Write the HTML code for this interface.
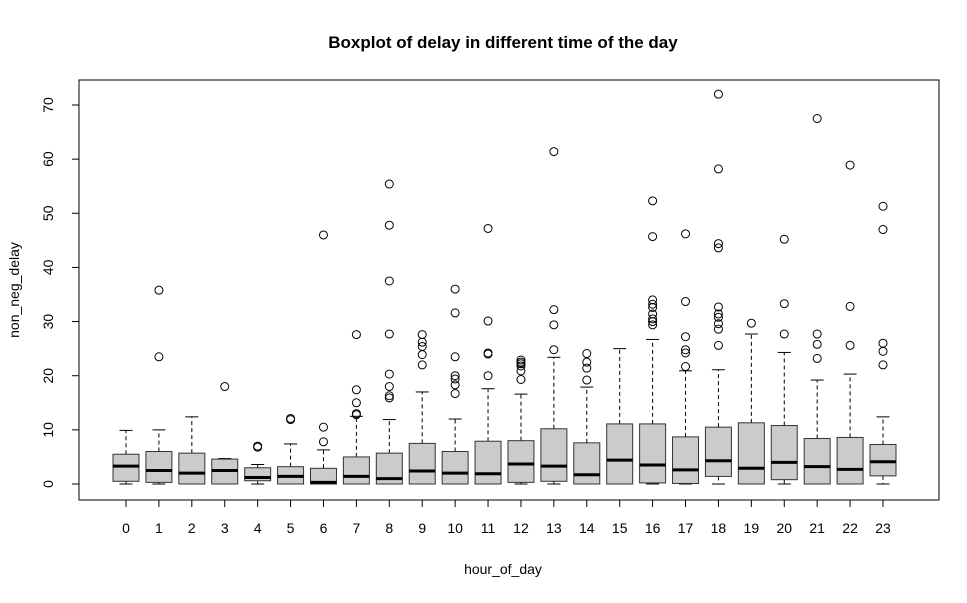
<!DOCTYPE html>
<html><head><meta charset="utf-8"><style>
body{margin:0;background:#fff}
svg text{font-family:"Liberation Sans",Arial,sans-serif;fill:#000}
</style></head><body>
<svg id="c" width="967" height="598" xmlns="http://www.w3.org/2000/svg">
<text x="503" y="48" font-size="17" font-weight="bold" text-anchor="middle">Boxplot of delay in different time of the day</text>
<rect x="79" y="80" width="860" height="420" fill="none" stroke="#000" stroke-width="1"/>
<text x="503" y="574" font-size="14" text-anchor="middle">hour_of_day</text>
<text transform="translate(19,290) rotate(-90)" font-size="14" text-anchor="middle">non_neg_delay</text>
<g id="g"></g>
</svg>
<script>
const hours=[0,1,2,3,4,5,6,7,8,9,10,11,12,13,14,15,16,17,18,19,20,21,22,23];
const lowW=[0,0,0,0,0,0,0,0,0,0,0,0,0,0,0,0,0,0,0,0,0,0,0,0];
const q1=[0.5,0.3,0,0,0.6,0,0,0,0,0,0,0,0.3,0.5,0,0,0.2,0.1,1.4,0,0.8,0,0,1.5];
const med=[3.3,2.5,2.0,2.5,1.2,1.4,0.3,1.4,1.0,2.4,2.0,1.9,3.7,3.3,1.7,4.4,3.5,2.6,4.3,2.9,4.0,3.2,2.7,4.1];
const q3=[5.5,6.0,5.7,4.6,3.0,3.2,2.9,5.0,5.7,7.5,6.0,7.9,8.0,10.2,7.6,11.1,11.1,8.7,10.5,11.3,10.8,8.4,8.6,7.3];
const highW=[9.9,10,12.4,4.7,3.6,7.4,6.3,12.5,11.9,17,12,17.6,16.6,23.4,17.9,25.0,26.7,20.9,21.1,27.7,24.3,19.2,20.3,12.4];
const outliers=[[],[23.5,35.8],[],[18],[6.8,7.0],[11.9,12.1],[7.8,10.5,46],[12.8,13.0,15,17.4,27.6],
[15.9,16.3,18,20.3,27.7,37.5,47.8,55.4],[22,23.9,25.4,26.2,27.6],[16.7,18.3,19.4,20,23.5,31.6,36],
[20,24,24.2,30.1,47.2],[19.3,20.9,21.8,22.2,22.5,22.9],[24.8,29.4,32.2,61.4],[19.2,21.4,22.5,24.1],[],
[29.4,30,30.5,31.4,32.6,33.2,34,45.7,52.3],[21.7,24.2,24.8,27.2,33.7,46.2],
[25.6,28.6,29.6,30.8,31.4,32.7,43.6,44.4,58.2,72],[29.7],[27.7,33.3,45.2],[23.2,25.8,27.7,67.5],[25.6,32.8,58.9],[22,24.5,26,47,51.3]];
const yTicks=[0,10,20,30,40,50,60,70];
const X=h=>126+h*(883-126)/23;
const Y=v=>484-v*(484-105)/70;
const NS="http://www.w3.org/2000/svg";
const g=document.getElementById('g');
function mk(t,a,p){const e=document.createElementNS(NS,t);for(const k in a)e.setAttribute(k,a[k]);(p||g).appendChild(e);return e;}
yTicks.forEach(t=>{
 const l=mk('line',{x1:72,x2:79,y1:Y(t),y2:Y(t),stroke:'#000'});
 
 
 const tx=mk('text',{transform:`translate(53,${Y(t)}) rotate(-90)`,'font-size':14,'text-anchor':'middle'});
 tx.textContent=t;
 
 
});
mk('line',{x1:79,x2:79,y1:Y(0),y2:Y(70),stroke:'#000'});
mk('line',{x1:X(0),x2:X(23),y1:500,y2:500,stroke:'#000'});
const bw=13;
hours.forEach((h,i)=>{
 const x=X(h);
 const tk=mk('line',{x1:x,x2:x,y1:500,y2:507,stroke:'#000'});
 
 
 const tx=mk('text',{x:x,y:533,'font-size':14,'text-anchor':'middle'});
 tx.textContent=h;
 
 
 const grp=mk('g',{});
 
 
 mk('line',{x1:x,x2:x,y1:Y(q3[i]),y2:Y(highW[i]),stroke:'#000','stroke-dasharray':'4,3'},grp);
 mk('line',{x1:x,x2:x,y1:Y(q1[i]),y2:Y(lowW[i]),stroke:'#000','stroke-dasharray':'4,3'},grp);
 mk('line',{x1:x-6.5,x2:x+6.5,y1:Y(highW[i]),y2:Y(highW[i]),stroke:'#000'},grp);
 mk('line',{x1:x-6.5,x2:x+6.5,y1:Y(lowW[i]),y2:Y(lowW[i]),stroke:'#000'},grp);
 mk('rect',{x:x-bw,y:Y(q3[i]),width:2*bw,height:Math.max(0.5,Y(q1[i])-Y(q3[i])),fill:'#cbcbcb',stroke:'#333','stroke-width':1},grp);
 mk('line',{x1:x-bw,x2:x+bw,y1:Y(med[i]),y2:Y(med[i]),stroke:'#000','stroke-width':3},grp);
 outliers[i].forEach(v=>{
  const c=mk('circle',{cx:x,cy:Y(v),r:4,fill:'none',stroke:'#000'},grp);
  
  
 });
});
</script>
</body></html>
